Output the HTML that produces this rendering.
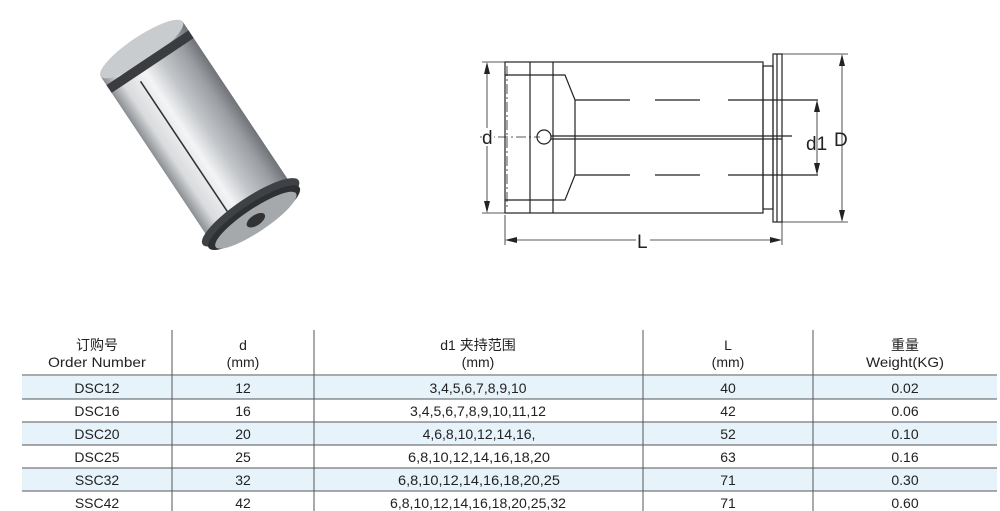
<!DOCTYPE html>
<html><head><meta charset="utf-8"><style>
body{margin:0;width:1000px;height:511px;background:#fff;overflow:hidden;position:relative;font-family:"Liberation Sans","Noto Sans CJK SC",sans-serif;color:#222}
svg{position:absolute;left:0;top:0}
</style></head><body>
<svg width="1000" height="511" viewBox="0 0 1000 511">
<defs>
<linearGradient id="met" x1="0" x2="1" y1="0" y2="0">
<stop offset="0" stop-color="#8a8d91"/><stop offset="0.15" stop-color="#d9dbdd"/><stop offset="0.4" stop-color="#f3f4f5"/><stop offset="0.6" stop-color="#c4c7ca"/><stop offset="0.85" stop-color="#9a9ea2"/><stop offset="1" stop-color="#6f7377"/>
</linearGradient>
</defs>
<!-- photo -->
<g transform="translate(197,132) rotate(-33.7) scale(1.05)">
<rect x="-47" y="-95" width="94" height="12" fill="url(#met)"/>
<ellipse cx="0" cy="-95" rx="47" ry="12" fill="#c9ccce"/>
<rect x="-47" y="-85" width="94" height="9" fill="#3a3c3f"/>
<rect x="-47" y="-76" width="94" height="165" fill="url(#met)"/>
<line x1="-18" y1="-70" x2="-18" y2="85" stroke="#333" stroke-width="1.5"/>
<ellipse cx="0" cy="92" rx="55" ry="14" fill="#3f4245"/>
<ellipse cx="0" cy="98" rx="52" ry="13" fill="#2e3033"/>
<ellipse cx="0" cy="101" rx="46" ry="11" fill="#a6a9ac"/>
<ellipse cx="0" cy="101" rx="10" ry="5" fill="#333"/>
</g>
<!-- drawing -->
<g fill="none" stroke="#222" stroke-width="1.2">
<rect x="505" y="62" width="258" height="151"/>
<line x1="530" y1="62" x2="530" y2="213"/>
<line x1="553" y1="62" x2="553" y2="213"/>
<line x1="505" y1="75" x2="553" y2="75"/>
<line x1="505" y1="200" x2="553" y2="200"/>
<polyline points="553,75 565,75 575,100 575,175 565,200 553,200"/>
<rect x="763" y="66" width="10" height="143"/>
<rect x="773" y="54" width="9" height="168"/>
<line x1="777" y1="54" x2="777" y2="222"/>
<circle cx="544" cy="137" r="7"/>
<line x1="551" y1="136" x2="792" y2="136"/>
<line x1="551" y1="139" x2="782" y2="139"/>
<line x1="575" y1="100" x2="630" y2="100"/><line x1="655" y1="100" x2="700" y2="100"/><line x1="728" y1="100" x2="818" y2="100"/>
<line x1="575" y1="175" x2="630" y2="175"/><line x1="655" y1="175" x2="700" y2="175"/><line x1="728" y1="175" x2="818" y2="175"/>
<line x1="480" y1="137" x2="540" y2="137" stroke-dasharray="10,3,2,3" stroke-width="0.8"/>
<line x1="507" y1="66" x2="507" y2="210" stroke-dasharray="10,3,2,3" stroke-width="0.8"/>
<line x1="482" y1="62" x2="505" y2="62" stroke-width="0.8"/>
<line x1="482" y1="213" x2="505" y2="213" stroke-width="0.8"/>
<line x1="487" y1="64" x2="487" y2="211" stroke-width="0.8"/>
<line x1="782" y1="54" x2="848" y2="54" stroke-width="0.8"/>
<line x1="782" y1="222" x2="848" y2="222" stroke-width="0.8"/>
<line x1="842" y1="56" x2="842" y2="220" stroke-width="0.8"/>
<line x1="817" y1="102" x2="817" y2="173" stroke-width="0.8"/>
<line x1="505" y1="215" x2="505" y2="245" stroke-width="0.8"/>
<line x1="782" y1="222" x2="782" y2="245" stroke-width="0.8"/>
<line x1="507" y1="240" x2="780" y2="240" stroke-width="0.8"/>
</g>
<g fill="#222">
<polygon points="487,62 484,74 490,74"/><polygon points="487,213 484,201 490,201"/>
<polygon points="842,54 839,66 845,66"/><polygon points="842,222 839,210 845,210"/>
<polygon points="817,100 814,112 820,112"/><polygon points="817,175 814,163 820,163"/>
<polygon points="505,240 517,237 517,243"/><polygon points="782,240 770,237 770,243"/>
</g>
<g font-size="19" fill="#222">
<rect x="482" y="128" width="12" height="18" fill="#fff"/>
<text x="482" y="144">d</text>
<text x="806" y="150">d1</text>
<text x="834" y="146">D</text>
<rect x="636" y="230" width="14" height="20" fill="#fff"/>
<text x="637" y="248">L</text>
</g>
<!-- table -->
<g fill="#e6f3fb">
<rect x="22" y="376" width="975" height="23"/>
<rect x="22" y="422" width="975" height="23"/>
<rect x="22" y="468" width="975" height="23"/>
</g>
<g stroke="#555" stroke-width="1">
<line x1="22" y1="375" x2="997" y2="375"/>
<line x1="22" y1="399" x2="997" y2="399"/>
<line x1="22" y1="422" x2="997" y2="422"/>
<line x1="22" y1="445" x2="997" y2="445"/>
<line x1="22" y1="468" x2="997" y2="468"/>
<line x1="22" y1="491" x2="997" y2="491"/>
<line x1="172" y1="330" x2="172" y2="511"/>
<line x1="314" y1="330" x2="314" y2="511"/>
<line x1="643" y1="330" x2="643" y2="511"/>
<line x1="813" y1="330" x2="813" y2="511"/>
</g>
<g font-size="14" fill="#222" text-anchor="middle">
<text x="97" y="350">订购号</text><text x="97" y="367" textLength="98" lengthAdjust="spacingAndGlyphs">Order Number</text>
<text x="243" y="350">d</text><text x="243" y="367">(mm)</text>
<text x="478" y="350">d1 夹持范围</text><text x="478" y="367">(mm)</text>
<text x="728" y="350">L</text><text x="728" y="367">(mm)</text>
<text x="905" y="350">重量</text><text x="905" y="367" textLength="78" lengthAdjust="spacingAndGlyphs">Weight(KG)</text>
<text x="97" y="393">DSC12</text><text x="243" y="393">12</text><text x="478" y="393" textLength="97" lengthAdjust="spacingAndGlyphs">3,4,5,6,7,8,9,10</text><text x="728" y="393">40</text><text x="905" y="393">0.02</text>
<text x="97" y="416">DSC16</text><text x="243" y="416">16</text><text x="478" y="416" textLength="136" lengthAdjust="spacingAndGlyphs">3,4,5,6,7,8,9,10,11,12</text><text x="728" y="416">42</text><text x="905" y="416">0.06</text>
<text x="97" y="439">DSC20</text><text x="243" y="439">20</text><text x="479" y="439">4,6,8,10,12,14,16,</text><text x="728" y="439">52</text><text x="905" y="439">0.10</text>
<text x="97" y="462">DSC25</text><text x="243" y="462">25</text><text x="479" y="462" textLength="142" lengthAdjust="spacingAndGlyphs">6,8,10,12,14,16,18,20</text><text x="728" y="462">63</text><text x="905" y="462">0.16</text>
<text x="97" y="485">SSC32</text><text x="243" y="485">32</text><text x="479" y="485" textLength="162" lengthAdjust="spacingAndGlyphs">6,8,10,12,14,16,18,20,25</text><text x="728" y="485">71</text><text x="905" y="485">0.30</text>
<text x="97" y="508">SSC42</text><text x="243" y="508">42</text><text x="478" y="508" textLength="176" lengthAdjust="spacingAndGlyphs">6,8,10,12,14,16,18,20,25,32</text><text x="728" y="508">71</text><text x="905" y="508">0.60</text>
</g>
</svg>
</body></html>
